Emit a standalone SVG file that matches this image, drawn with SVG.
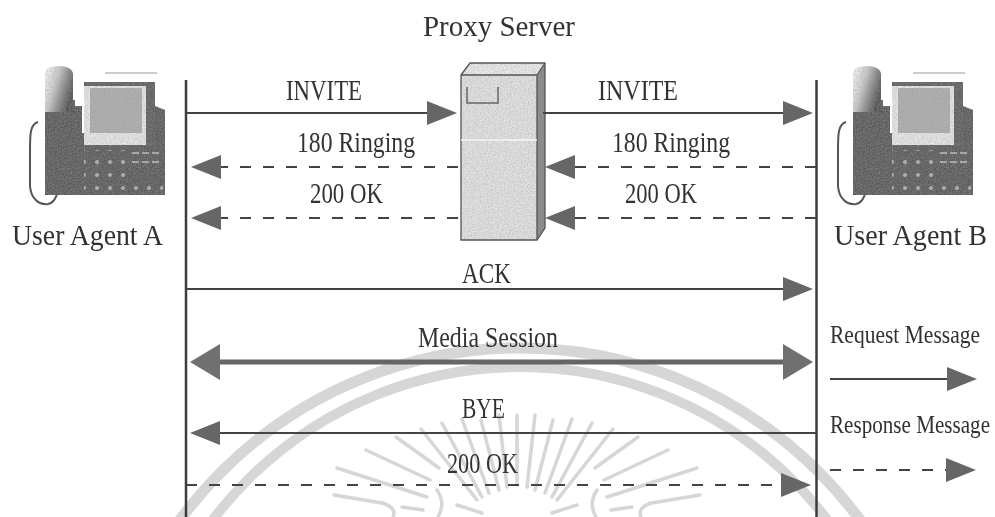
<svg xmlns="http://www.w3.org/2000/svg" xmlns:xlink="http://www.w3.org/1999/xlink" width="995" height="517" viewBox="0 0 995 517">
<style>
text{font-family:"Liberation Serif","Times New Roman",serif;fill:#333;filter:url(#soft)}
.l{font-size:29px}.s{font-size:20px}
.ln{fill:none;stroke:#444;stroke-width:2}
.da{stroke-dasharray:11 12}
.wm{fill:none;stroke:#d6d6d6;stroke-linecap:round}
.v{stroke:#3c3c3c;stroke-width:2.5}
</style>
<defs>
<filter id="soft" x="-5%" y="-20%" width="110%" height="140%"><feGaussianBlur stdDeviation="0.45"/></filter>
<filter id="grain" x="0" y="0" width="100%" height="100%">
<feTurbulence type="fractalNoise" baseFrequency="0.7" numOctaves="2" seed="4" result="n"/>
<feColorMatrix in="n" type="matrix" values="0 0 0 0 0.3 0 0 0 0 0.3 0 0 0 0 0.3 0.9 0 0 0 -0.26" result="d"/>
<feComposite in="d" in2="SourceGraphic" operator="in" result="c"/>
<feMerge><feMergeNode in="SourceGraphic"/><feMergeNode in="c"/></feMerge>
<feGaussianBlur stdDeviation="0.6"/>
</filter>
<marker id="h" markerUnits="userSpaceOnUse" markerWidth="32" markerHeight="28" refX="1" refY="14" orient="auto"><polygon points="0,2 30,14 0,26" fill="#666"/></marker>
<marker id="hb" markerUnits="userSpaceOnUse" markerWidth="32" markerHeight="40" refX="1" refY="20" orient="auto-start-reverse"><polygon points="0,2 30,20 0,38" fill="#707070"/></marker>
<linearGradient id="hs" x1="0" x2="1" y1="0" y2="0.5"><stop offset="0" stop-color="#fff"/><stop offset="0.45" stop-color="#ccc"/><stop offset="1" stop-color="#505050"/></linearGradient>
<pattern id="keys" width="13" height="13" patternUnits="userSpaceOnUse"><circle cx="6" cy="6" r="2" fill="#b4b4b4"/></pattern>
<g id="phone">
<path d="M38 122C30 124 30 135 30 150V186C31 200 40 205 48 204C54 203 56 197 58 192" fill="none" stroke="#555" stroke-width="2"/>
<g filter="url(#grain)">
<path d="M45 100H75V106H82V133H84V145H155V106L165 110V195H45Z" fill="#5a5a5a"/>
<path d="M84 82H155V146H84Z" fill="#5f5f5f"/>
<path d="M45 112V72Q47 66 58 66Q72 66 73 74V112Z" fill="url(#hs)"/>
<path d="M84 86H146V145H84Z" fill="#e8e8e8"/>
<rect x="90" y="88" width="52" height="45" fill="#b0b0b0"/>
<rect x="84" y="150" width="50" height="44" fill="url(#keys)"/>
<rect x="130" y="178" width="33" height="15" fill="url(#keys)"/>
<path d="M132 153H162M132 162H162" stroke="#aaa" stroke-width="2" stroke-dasharray="7 3"/>
</g>
<path d="M105 73H157" stroke="#ccc" stroke-width="2" fill="none"/>
</g>
</defs>
<rect width="995" height="517" fill="#fff"/>
<g id="watermark">
<circle class="wm" cx="520" cy="770" r="422" stroke-width="11"/>
<circle class="wm" cx="520" cy="752" r="385" stroke-width="10"/>
<g stroke-width="3.500">
<path class="wm" d="M517 415V485M535 415L527 487M553 420L535 490M572 419L545 493M592 423L552 497M613 429L557 500M638 437L595 468M668 450L604 480M697 468L607 497M700 495L652 503"/>
<path class="wm" d="M499 415L507 487M481 420L499 490M462 419L489 493M442 423L482 497M421 429L477 500M396 437L439 468M366 450L430 480M337 468L427 497M334 495L382 503"/>
<path class="wm" d="M437 490Q446 503 438 517M597 490Q588 503 596 517M383 503Q397 508 393 517M651 503Q637 508 641 517M457 505L482 513M577 505L552 513M402 507L423 510M632 507L611 510"/>
</g>
</g>
<g id="lifelines">
<path class="ln v" d="M186 80V517"/>
<path class="ln v" d="M816.500 80V517"/>
</g>
<g id="proxy-server">
<g filter="url(#grain)">
<polygon points="461,75 470,63 545,63 537,75" fill="#ececec"/>
<polygon points="537,75 545,63 545,228 537,240" fill="#8a8a8a"/>
<rect x="461" y="75" width="76" height="165" fill="#e4e4e4"/>
</g>
<path d="M461 75L470 63H545V228L537 240H461ZM461 75H537V240M537 75L545 63" fill="none" stroke="#555" stroke-width="1.300"/>
<path d="M467 87V103H498V87" fill="none" stroke="#666" stroke-width="1.500"/>
<path d="M461 140H537" stroke="#f6f6f6" stroke-width="1.500"/>
<text x="423" y="36" class="l" textLength="152" lengthAdjust="spacingAndGlyphs">Proxy Server</text>
</g>
<g id="user-agent-a">
<use xlink:href="#phone" href="#phone"/>
<text x="12" y="245" class="l" textLength="151" lengthAdjust="spacingAndGlyphs">User Agent A</text>
</g>
<g id="user-agent-b">
<use xlink:href="#phone" href="#phone" x="808"/>
<text x="834" y="245" class="l" textLength="153" lengthAdjust="spacingAndGlyphs">User Agent B</text>
</g>
<g id="connectors">
<path class="ln" d="M186 113H428" marker-end="url(#h)"/>
<path class="ln" d="M543 113H784" marker-end="url(#h)"/>
<path class="ln da" d="M458 167H220" marker-end="url(#h)"/>
<path class="ln da" d="M816 167H574" marker-end="url(#h)"/>
<path class="ln da" d="M458 218H220" marker-end="url(#h)"/>
<path class="ln da" d="M816 218H574" marker-end="url(#h)"/>
<path class="ln" d="M186 289H784" marker-end="url(#h)"/>
<path d="M219 362H784" fill="none" stroke="#666" stroke-width="5" marker-start="url(#hb)" marker-end="url(#hb)"/>
<path class="ln" d="M816 433H219" marker-end="url(#h)"/>
<path class="ln da" d="M186 485H782" marker-end="url(#h)"/>
</g>
<g id="labels">
<text x="286" y="100" class="l" textLength="76" lengthAdjust="spacingAndGlyphs">INVITE</text>
<text x="598" y="100" class="l" textLength="80" lengthAdjust="spacingAndGlyphs">INVITE</text>
<text x="297" y="152" class="l" textLength="118" lengthAdjust="spacingAndGlyphs">180 Ringing</text>
<text x="612" y="152" class="l" textLength="118" lengthAdjust="spacingAndGlyphs">180 Ringing</text>
<text x="310" y="203" class="l" textLength="73" lengthAdjust="spacingAndGlyphs">200 OK</text>
<text x="625" y="203" class="l" textLength="72" lengthAdjust="spacingAndGlyphs">200 OK</text>
<text x="462" y="283" class="l" textLength="49" lengthAdjust="spacingAndGlyphs">ACK</text>
<text x="418" y="347" class="l" textLength="140" lengthAdjust="spacingAndGlyphs">Media Session</text>
<text x="462" y="418" class="l" textLength="43" lengthAdjust="spacingAndGlyphs">BYE</text>
<text x="447" y="473" class="l" textLength="71" lengthAdjust="spacingAndGlyphs">200 OK</text>
</g>
<g id="legend">
<text transform="translate(830 343) scale(1 1.250)" class="s" textLength="150" lengthAdjust="spacingAndGlyphs">Request Message</text>
<path class="ln" d="M830 379H948" marker-end="url(#h)"/>
<text transform="translate(830 433) scale(1 1.250)" class="s" textLength="160" lengthAdjust="spacingAndGlyphs">Response Message</text>
<path class="ln da" d="M830 470H947" marker-end="url(#h)"/>
</g>
</svg>
